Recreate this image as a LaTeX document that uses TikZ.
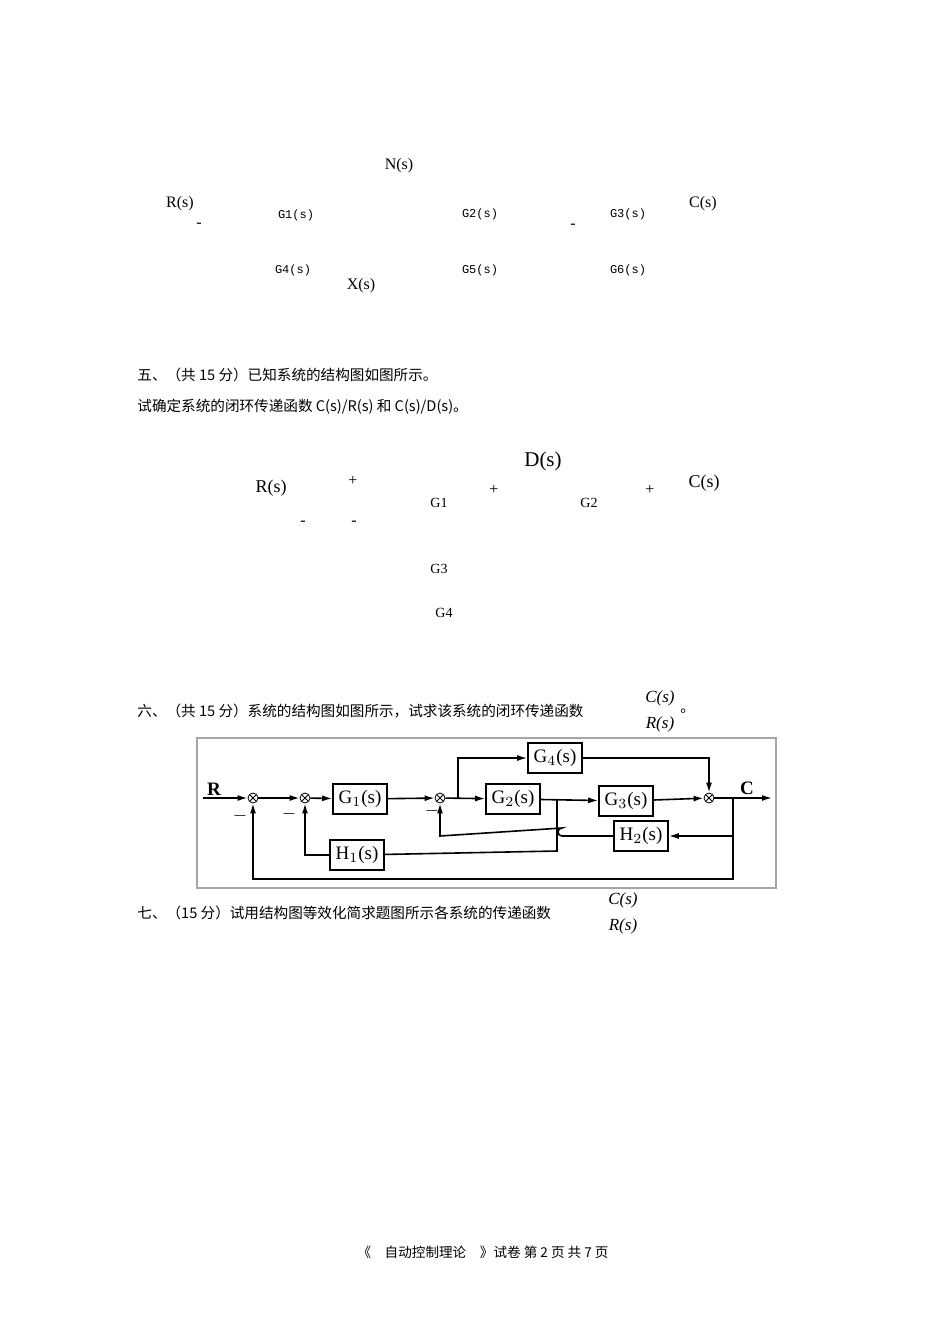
\documentclass[tikz,border=0pt]{standalone}
\usepackage{fontspec}
\setmainfont{Liberation Serif}
\newfontfamily\cjk{Noto Sans CJK SC}
\newfontfamily\mono{Liberation Mono}
\usetikzlibrary{arrows.meta}
\begin{document}
\begin{tikzpicture}[x=0.5pt,y=-0.5pt,
  txt/.style={inner sep=0pt,font=\fontsize{8}{9}\selectfont},
  cn/.style={inner sep=0pt,anchor=west,font=\cjk\fontsize{7.3}{9}\selectfont},
  gs/.style={inner sep=0pt,font=\mono\fontsize{6}{7}\selectfont},
  blk/.style={draw,line width=0.8pt,minimum width=27pt,minimum height=15pt,inner sep=0pt,font=\fontsize{9.5}{10}\selectfont},
  sj/.style={draw,circle,minimum size=5pt,inner sep=0pt,path picture={\draw (path picture bounding box.north west)--(path picture bounding box.south east) (path picture bounding box.north east)--(path picture bounding box.south west);}},
  sig/.style={line width=0.8pt,-{Latex[length=5pt,width=3pt]}},
  ln/.style={line width=0.8pt}]
\useasboundingbox (0,0) rectangle (950,1344);
% problem 4 texts
\node[txt] (n) at (399,166) {N(s)};
\node[txt] (r1) at (180,204) {R(s)};
\node[txt] (m1) at (199,225) {-};
\node[gs] (g1a) at (296,215) {G1(s)};
\node[gs] (g2a) at (480,214) {G2(s)};
\node[txt] (m2) at (573,226) {-};
\node[gs] (g3a) at (628,214) {G3(s)};
\node[txt] (c1) at (703,204) {C(s)};
\node[gs] (g4a) at (293,270) {G4(s)};
\node[gs] (g5a) at (480,270) {G5(s)};
\node[gs] (g6a) at (628,270) {G6(s)};
\node[txt] (x1) at (361,286) {X(s)};
% problem 5
\node[cn] (p5) at (137,375) {五、（共 15 分）已知系统的结构图如图所示。};
\node[cn] (p5b) at (137,407) {试确定系统的闭环传递函数 C(s)/R(s) 和 C(s)/D(s)。};
\node[txt,font=\fontsize{10.5}{12}\selectfont] (d) at (543,461) {D(s)};
\node[txt,font=\fontsize{9}{10}\selectfont] (r2) at (271,488) {R(s)};
\node[txt] (pa) at (353,481) {+};
\node[gs,font=\fontsize{7}{8}\selectfont] (g1b) at (439,503) {G1};
\node[txt] (pb) at (494,490) {+};
\node[gs,font=\fontsize{7}{8}\selectfont] (g2b) at (589,503) {G2};
\node[txt] (pc) at (650,490) {+};
\node[txt,font=\fontsize{9}{10}\selectfont] (c2) at (704,483) {C(s)};
\node[txt] (ma) at (303,523) {-};
\node[txt] (mb) at (354,523) {-};
\node[gs,font=\fontsize{7}{8}\selectfont] (g3b) at (439,569) {G3};
\node[gs,font=\fontsize{7}{8}\selectfont] (g4b) at (444,613) {G4};
% problem 6
\node[cn] (p6) at (137,711) {六、（共 15 分）系统的结构图如图所示，试求该系统的闭环传递函数};
\node[txt,font=\itshape\fontsize{8.5}{9}\selectfont] (f1) at (660,698) {C(s)};
\node[txt,font=\itshape\fontsize{8.5}{9}\selectfont] (f2) at (660,724) {R(s)};
\node[cn] (dot) at (680,711) {。};
\draw[gray!70,line width=0.6pt] (197,738) rectangle (776,888);
\node[txt,font=\bfseries\fontsize{9.5}{10}\selectfont] (R) at (214,789) {R};
\node[txt,font=\bfseries\fontsize{9.5}{10}\selectfont] (C) at (747,788) {C};
\coordinate (rin) at (203,798);
\node[sj] (s1) at (253,798) {};
\node[sj] (s2) at (305,798) {};
\node[blk] (G1) at (360,799) {G$_1$(s)};
\node[sj] (s3) at (440,798) {};
\node[blk] (G2) at (513,799) {G$_2$(s)};
\node[blk] (G3) at (626,801) {G$_3$(s)};
\node[sj] (s4) at (709,798) {};
\node[blk] (G4) at (555,758) {G$_4$(s)};
\node[blk] (H2) at (641,836) {H$_2$(s)};
\node[blk] (H1) at (357,855) {H$_1$(s)};
\coordinate (cout) at (772,798);
\node[txt,font=\bfseries\fontsize{9}{9}\selectfont] (mm1) at (240,816) {$-$};
\node[txt,font=\bfseries\fontsize{9}{9}\selectfont] (mm2) at (289,814) {$-$};
\node[txt,font=\bfseries\fontsize{9}{9}\selectfont] (mm3) at (432,811) {$-$};
\draw[sig] (rin) -- (s1);
\draw[sig] (s1) -- (s2);
\draw[sig] (s2) -- (G1);
\draw[sig] (G1) -- (s3);
\draw[sig] (s3) -- (G2);
\draw[sig] (G2) -- (G3);
\draw[sig] (G3) -- (s4);
\draw[sig] (s4) -- (cout);
\draw[sig] (458,798) -- (458,758) -- (G4);
\draw[sig] (G4) -| (s4);
\draw[sig] (733,798) -- (733,836) -- (H2);
\draw[sig] (733,836) -- (733,879) -- (253,879) -- (s1);
\draw[sig] (H2) -- (562,836) arc (-90:90:-4) -- (440,836) -- (s3);
\draw[ln] (557,799) -- (557,851) -- (H1);
\draw[sig] (H1) -- (305,855) -- (s2);
% problem 7
\node[cn] (p7) at (137,913) {七、（15 分）试用结构图等效化简求题图所示各系统的传递函数};
\node[txt,font=\itshape\fontsize{8.5}{9}\selectfont] (f3) at (623,900) {C(s)};
\node[txt,font=\itshape\fontsize{8.5}{9}\selectfont] (f4) at (623,926) {R(s)};
% footer
\node[inner sep=0pt,font=\cjk\fontsize{6.8}{8}\selectfont] (foot) at (483,1252) {《\quad 自动控制理论\quad 》试卷 第 2 页 共 7 页};
\end{tikzpicture}
\end{document}
